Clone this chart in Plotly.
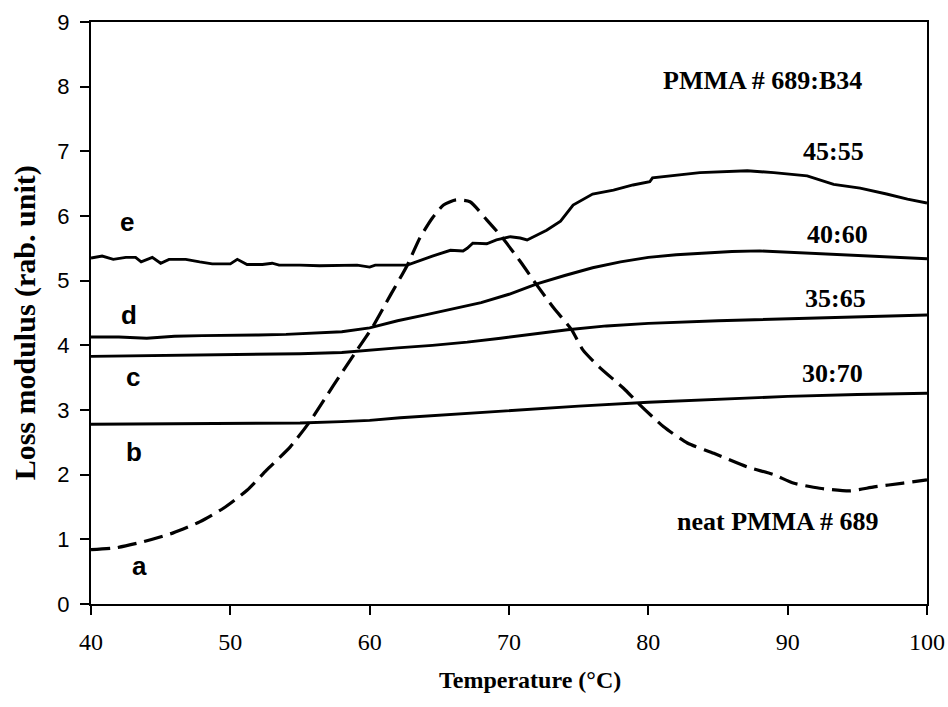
import plotly.graph_objects as go

# ---- data ----
x_a = [40, 41.8, 43.7, 45.9, 47.8, 49.5, 51.2, 52.6, 54.3, 55.7, 57.4, 59.1, 60.2, 61.5, 62.7,
       63.6, 64.5, 65.3, 66.2, 67.2, 68.4, 69.5, 70.8, 72.0, 73.2, 74.5, 75.3, 76.5, 78.2, 79.3,
       81.1, 82.8, 84.7, 87.1, 89.0, 90.4, 92.3, 94.5, 96.2, 98.3, 100]
y_a = [0.84, 0.87, 0.96, 1.10, 1.27, 1.48, 1.76, 2.07, 2.43, 2.82, 3.38, 3.93, 4.28, 4.78, 5.24,
       5.66, 5.97, 6.17, 6.25, 6.22, 5.94, 5.67, 5.30, 4.93, 4.58, 4.24, 3.93, 3.66, 3.34, 3.10,
       2.74, 2.49, 2.33, 2.12, 2.00, 1.87, 1.79, 1.75, 1.81, 1.87, 1.92]

x_b = [40, 45, 50, 55, 58, 60, 62.2, 65, 69.4, 75, 80, 85, 90, 95, 100]
y_b = [2.78, 2.79, 2.80, 2.80, 2.82, 2.84, 2.88, 2.92, 2.99, 3.06, 3.12, 3.17, 3.21, 3.24, 3.26]

x_c = [40, 45, 50, 55, 58, 60, 62, 64.5, 67, 69.4, 72, 74.2, 77, 80, 85, 90, 95, 100]
y_c = [3.83, 3.84, 3.85, 3.87, 3.89, 3.92, 3.96, 4.00, 4.05, 4.11, 4.18, 4.24, 4.30, 4.34, 4.38,
       4.41, 4.44, 4.47]

x_d = [40, 42, 44, 46, 48, 50, 52, 54, 56, 58, 60, 62, 64, 66, 68, 70, 72, 74, 76, 78, 80, 82,
       84, 86, 88, 90, 92, 94, 96, 98, 100]
y_d = [4.13, 4.13, 4.11, 4.14, 4.15, 4.15, 4.16, 4.17, 4.19, 4.21, 4.27, 4.38, 4.47, 4.57, 4.66,
       4.79, 4.95, 5.08, 5.20, 5.29, 5.36, 5.40, 5.43, 5.45, 5.46, 5.44, 5.41, 5.39, 5.37, 5.35, 5.34]

x_e = [40, 40.8, 41.6, 42.5, 43.2, 43.6, 44.4, 45.0, 45.6, 46.8, 47.8, 48.7, 50.0, 50.5, 51.2,
       52.3, 53.0, 53.5, 55.0, 56.4, 59.1, 60.0, 60.4, 62.7, 64.5, 65.8, 66.7, 67.0, 67.4, 68.4,
       69.1, 70.1, 70.8, 71.3, 72.7, 73.7, 74.6, 76.0, 77.5, 78.9, 80.1, 80.3, 83.7, 87.1, 89.0,
       91.4, 93.3, 95.2, 97.1, 98.6, 100]
y_e = [5.35, 5.38, 5.33, 5.36, 5.36, 5.29, 5.36, 5.27, 5.33, 5.33, 5.29, 5.26, 5.26, 5.33, 5.25,
       5.25, 5.27, 5.24, 5.24, 5.23, 5.24, 5.21, 5.24, 5.24, 5.38, 5.47, 5.46, 5.50, 5.58, 5.57,
       5.63, 5.68, 5.66, 5.63, 5.78, 5.92, 6.17, 6.34, 6.40, 6.48, 6.53, 6.59, 6.67, 6.70, 6.67,
       6.62, 6.49, 6.43, 6.34, 6.26, 6.20]

ratio_labels = ["PMMA # 689:B34", "45:55", "40:60", "35:65", "30:70", "neat PMMA # 689"]
ratio_x = [88.17, 93.27, 93.56, 93.41, 93.2, 89.25]
ratio_y = [8.10, 6.99, 5.71, 4.73, 3.57, 1.27]

letter_labels = ["e", "d", "c", "b", "a"]
letter_x = [42.55, 42.76, 42.98, 43.12, 43.48]
letter_y = [5.91, 4.47, 3.51, 2.35, 0.59]

serif = "Liberation Serif, Times New Roman, serif"
sans = "Liberation Sans, Arial, sans-serif"

fig = go.Figure()
for xs, ys in [(x_b, y_b), (x_c, y_c), (x_d, y_d), (x_e, y_e)]:
    fig.add_trace(go.Scatter(x=xs, y=ys, mode="lines",
                             line=dict(color="black", width=2.9), showlegend=False))
fig.add_trace(go.Scatter(x=x_a, y=y_a, mode="lines",
                         line=dict(color="black", width=3.2, dash="19px,8px", shape="spline",
                                   smoothing=0.6),
                         showlegend=False))

for t, xx, yy in zip(ratio_labels, ratio_x, ratio_y):
    fig.add_annotation(x=xx, y=yy, text="<b>%s</b>" % t, showarrow=False,
                       xanchor="center", yanchor="middle",
                       font=dict(family=serif, size=26, color="black"))
for t, xx, yy in zip(letter_labels, letter_x, letter_y):
    fig.add_annotation(x=xx, y=yy, text="<b>%s</b>" % t, showarrow=False,
                       xanchor="center", yanchor="middle",
                       font=dict(family=sans, size=26, color="black"))

# axis titles
fig.add_annotation(xref="paper", yref="paper", x=0.525, y=-0.1306,
                   xanchor="center", yanchor="middle",
                   text="<b>Temperature (°C)</b>", showarrow=False,
                   font=dict(family=serif, size=24, color="black"))
fig.add_annotation(xref="paper", yref="paper", x=-0.0796, y=0.483,
                   xanchor="center", yanchor="middle",
                   text="<b>Loss modulus (rab. unit)</b>", showarrow=False, textangle=-90,
                   font=dict(family=serif, size=30, color="black"))

fig.update_layout(
    width=948, height=707,
    margin=dict(l=91, r=21, t=22, b=103, autoexpand=False),
    paper_bgcolor="white", plot_bgcolor="white",
    xaxis=dict(range=[40, 100], dtick=10, tick0=40, showgrid=False, zeroline=False,
               automargin=False,
               showline=True, linecolor="black", linewidth=2, mirror=True,
               ticks="outside", ticklen=9, tickwidth=1.5, tickcolor="black",
               ticklabelstandoff=6,
               tickfont=dict(family=serif, size=24, color="black")),
    yaxis=dict(range=[0, 9], dtick=1, tick0=0, showgrid=False, zeroline=False,
               automargin=False,
               showline=True, linecolor="black", linewidth=2, mirror=True,
               ticks="outside", ticklen=9, tickwidth=1.5, tickcolor="black",
               ticklabelstandoff=6,
               tickfont=dict(family=sans, size=22, color="black")),
)

fig.write_html("out.html")
